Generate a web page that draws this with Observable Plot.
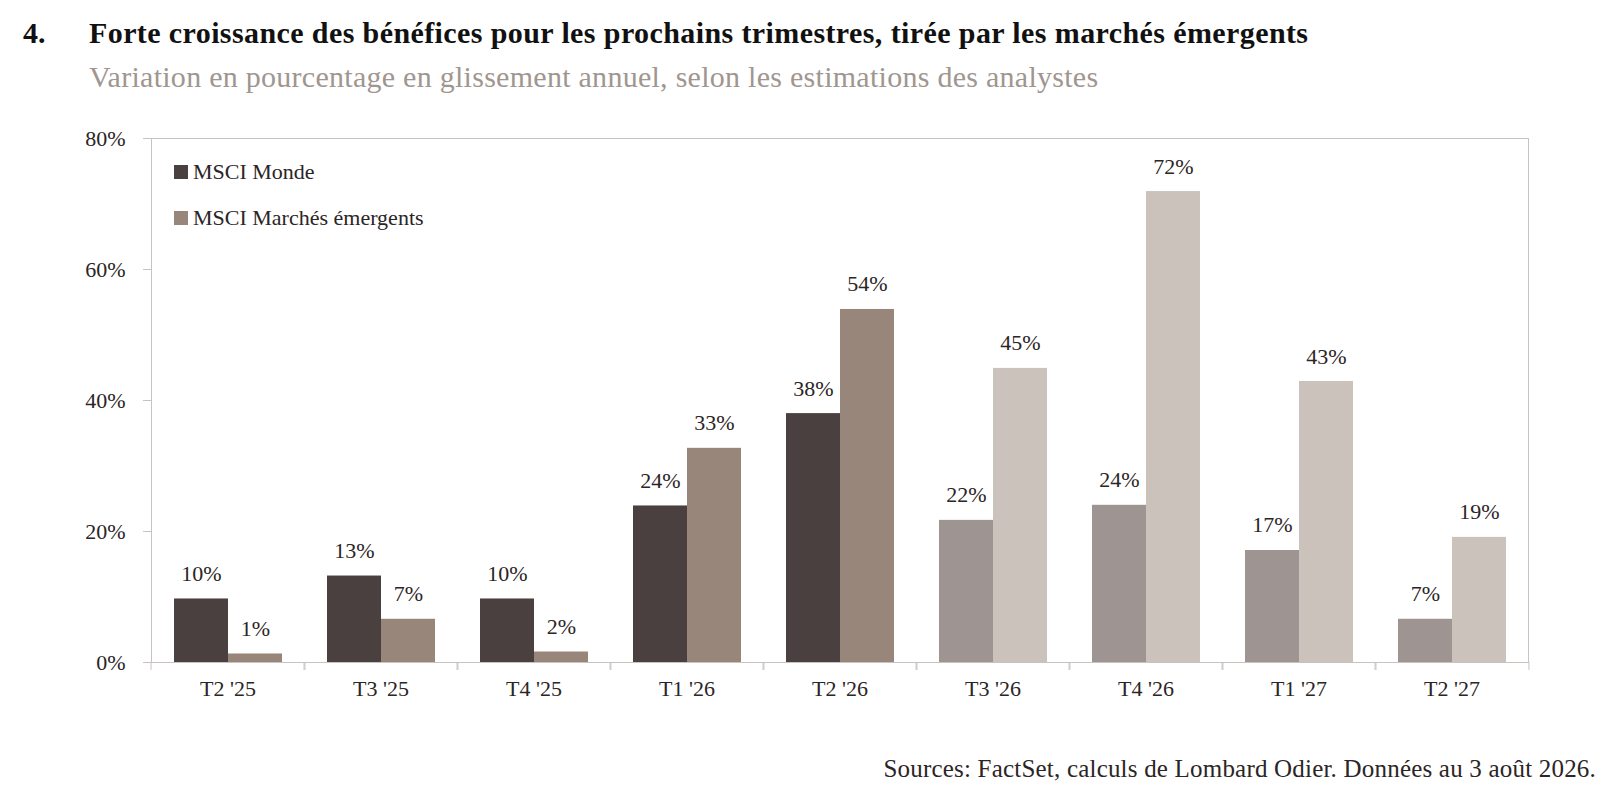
<!DOCTYPE html>
<html><head><meta charset="utf-8">
<script src="https://cdn.jsdelivr.net/npm/d3@7"></script>
<script src="https://cdn.jsdelivr.net/npm/@observablehq/plot@0.6"></script>
<style>
body{margin:0;background:#fff;font-family:"Liberation Serif",serif;}
#wrap{position:relative;width:1620px;height:803px;overflow:hidden;background:#fff;}
.t{position:absolute;line-height:1;white-space:nowrap;}
#num{left:23px;top:18.3px;font-weight:bold;font-size:30px;color:#111;}
#title{left:89px;top:18.3px;font-weight:bold;font-size:30px;letter-spacing:0.4px;color:#111;}
#sub{left:89px;top:61.9px;font-size:30px;letter-spacing:0.27px;color:#9f9690;}
#src{right:24px;top:756px;font-size:25px;letter-spacing:0.2px;color:#2b2525;}
#chart{position:absolute;left:0;top:110px;}
.leg{position:absolute;left:174px;font-size:22px;color:#2b2525;display:flex;align-items:center;line-height:1;height:14px;}
.leg span.sw{display:inline-block;width:14px;height:14px;margin-right:5px;}
</style></head>
<body><div id="wrap">
<div class="t" id="num">4.</div>
<div class="t" id="title">Forte croissance des bénéfices pour les prochains trimestres, tirée par les marchés émergents</div>
<div class="t" id="sub">Variation en pourcentage en glissement annuel, selon les estimations des analystes</div>
<div id="chart"></div>
<div id="legend"></div>
<div class="t" id="src">Sources: FactSet, calculs de Lombard Odier. Données au 3 août 2026.</div>
</div>
<script>
const quarters = ["T2 '25","T3 '25","T4 '25","T1 '26","T2 '26","T3 '26","T4 '26","T1 '27","T2 '27"];
const monde = [9.7, 13.2, 9.7, 23.9, 38.0, 21.7, 24.0, 17.1, 6.6];
const emergents = [1.3, 6.6, 1.6, 32.7, 53.9, 44.9, 71.9, 42.9, 19.1];
const estimated = [false, false, false, false, false, true, true, true, true];
const seriesNames = ["MSCI Monde", "MSCI Marchés émergents"];
const yTicks = [0, 20, 40, 60, 80];
const colorKeys = ["MSCI Monde", "MSCI Marchés émergents", "MSCI Monde (est.)", "MSCI Marchés émergents (est.)"];
const colors = ["#4b4040", "#978679", "#9e9593", "#cbc2bc"];

const rows = quarters.flatMap((q, i) => [
  {quarter: q, series: seriesNames[0], value: monde[i], est: estimated[i]},
  {quarter: q, series: seriesNames[1], value: emergents[i], est: estimated[i]}
]);
rows.forEach(d => d.key = d.series + (d.est ? " (est.)" : ""));

const W = 1620, ML = 147, MR = 88;
const halfStep = (W - ML - MR) / quarters.length / 2;
const axisColor = "#c8c3bf";
const textColor = "#2b2525";

const chart = Plot.plot({
  width: W, height: 602,
  marginTop: 28, marginBottom: 50, marginLeft: ML, marginRight: MR,
  style: {fontFamily: "Liberation Serif", fontSize: "22px", color: textColor, background: "#fff", overflow: "visible"},
  fx: {domain: quarters, padding: 0, label: null},
  x: {domain: seriesNames, paddingInner: 0, paddingOuter: 0.4, axis: null},
  y: {domain: [0, 80], label: null},
  color: {domain: colorKeys, range: colors},
  marks: [
    Plot.barY(rows, {fx: "quarter", x: "series", y: "value", fill: "key"}),
    Plot.text(rows, {fx: "quarter", x: "series", y: "value", text: d => Math.round(d.value) + "%",
      lineAnchor: "bottom", dy: -18, fontSize: 22, fill: textColor}),
    Plot.frame({facet: "super", stroke: axisColor}),
    Plot.axisY({ticks: yTicks, tickFormat: d => d + "%", tickSize: 8, tickPadding: 18, stroke: axisColor, fill: textColor, fontSize: 22, label: null}),
    Plot.axisFx({anchor: "bottom", text: null, tickSize: 8, dx: -halfStep, stroke: axisColor, label: null}),
    Plot.axisFx({anchor: "bottom", text: null, tickSize: 8, dx: halfStep, stroke: axisColor, label: null}),
    Plot.axisFx({anchor: "bottom", tickSize: 0, tickPadding: 18, fontSize: 22, fill: textColor, label: null})
  ]
});
document.getElementById("chart").appendChild(chart);

const legend = document.getElementById("legend");
seriesNames.forEach((s, i) => {
  const div = document.createElement("div");
  div.className = "leg";
  div.style.top = (165 + i * 46) + "px";
  div.innerHTML = `<span class="sw" style="background:${colors[i]}"></span><span>${s}</span>`;
  legend.appendChild(div);
});
</script>
</body></html>
